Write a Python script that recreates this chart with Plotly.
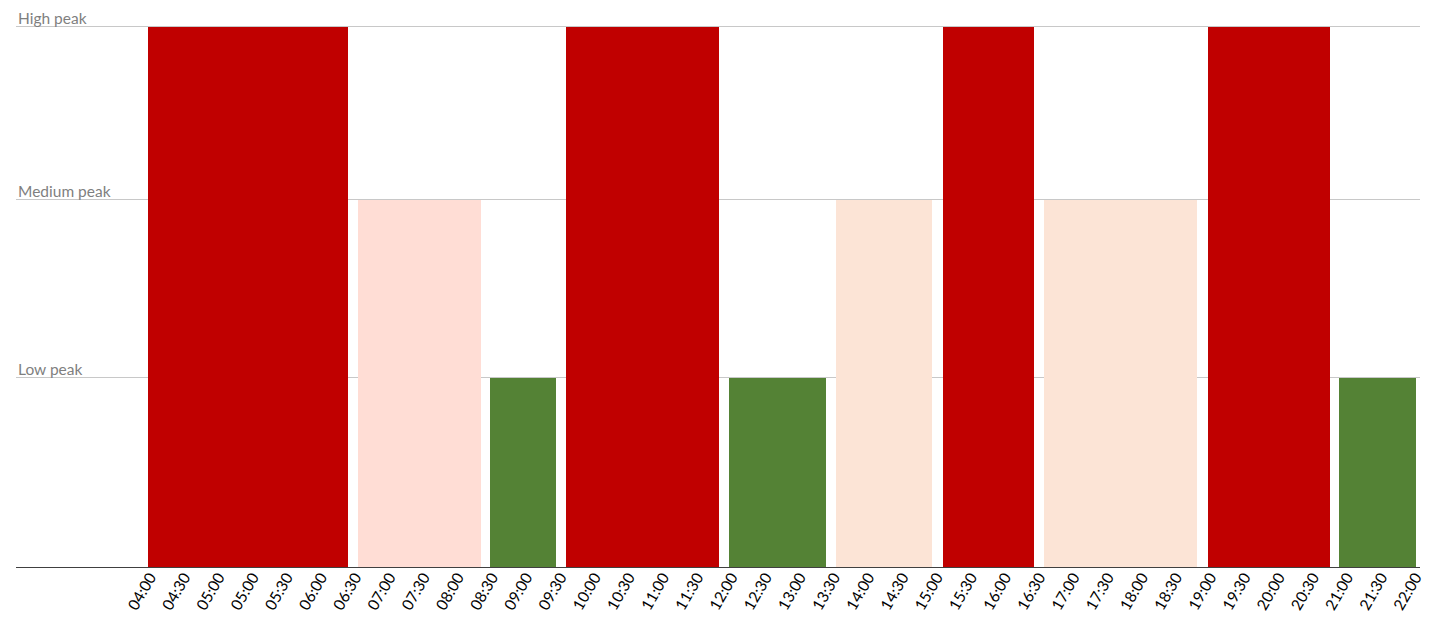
import plotly.graph_objects as go

# Time-slot tick labels (as shown on the source chart, including the repeated 05:00)
tick_labels = ["04:00", "04:30", "05:00", "05:00", "05:30", "06:00", "06:30", "07:00",
               "07:30", "08:00", "08:30", "09:00", "09:30", "10:00", "10:30", "11:00",
               "11:30", "12:00", "12:30", "13:00", "13:30", "14:00", "14:30", "15:00",
               "15:30", "16:00", "16:30", "17:00", "17:30", "18:00", "18:30", "19:00",
               "19:30", "20:00", "20:30", "21:00", "21:30", "22:00"]

# Peak levels
level_names = ["Low peak", "Medium peak", "High peak"]
level_values = [35, 68, 100]

# Periods: start / end in slot units (index into tick_labels), and peak level
period_start = [-0.06, 6.08, 9.94, 12.16, 16.93, 20.06, 23.19, 26.14, 30.94, 34.77]
period_end = [5.79, 9.68, 11.87, 16.64, 19.77, 22.87, 25.85, 30.61, 34.50, 37.02]
period_level = ["High peak", "Medium peak", "Low peak", "High peak", "Low peak",
                "Medium peak", "High peak", "Medium peak", "High peak", "Low peak"]
period_color = ["#C00000", "#FFDDD5", "#548235", "#C00000", "#548235",
                "#FCE4D6", "#C00000", "#FCE4D6", "#C00000", "#548235"]

lvl = dict(zip(level_names, level_values))
xs = [(s + e) / 2 for s, e in zip(period_start, period_end)]
ws = [e - s for s, e in zip(period_start, period_end)]
ys = [lvl[p] for p in period_level]

fig = go.Figure()
fig.add_trace(go.Bar(
    x=xs, y=ys, width=ws,
    marker=dict(color=period_color, line=dict(width=0)),
    hovertext=period_level, hoverinfo="text",
    showlegend=False,
))

# Level labels sit just above their gridlines, at the left edge of the plot
for name, val in zip(level_names, level_values):
    fig.add_annotation(
        x=0, xref="paper", y=val, yref="y",
        xanchor="left", yanchor="bottom", xshift=0, yshift=-2,
        text=name, showarrow=False,
        font=dict(size=15.5, color="#7F7F7F"),
    )

fig.update_layout(
    width=1432, height=628,
    margin=dict(l=8, r=20, t=0, b=69, autoexpand=False),
    plot_bgcolor="white", paper_bgcolor="white",
    font=dict(family="Lato, Open Sans, sans-serif"),
    bargap=0,
    xaxis=dict(
        range=[-3.92, 37.13], automargin=False,
        tickmode="array", tickvals=list(range(len(tick_labels))), ticktext=tick_labels,
        tickangle=-60, tickfont=dict(size=15.5, color="#000000"),
        ticklabelstandoff=-6,
        showgrid=False, zeroline=False,
        showline=True, linecolor="#404040", linewidth=1.3,
        ticks="",
    ),
    yaxis=dict(
        range=[0, 103.5], automargin=False,
        tickmode="array", tickvals=level_values, showticklabels=False,
        showgrid=True, gridcolor="#C8C8C8", gridwidth=1,
        zeroline=False, showline=False, ticks="",
    ),
)

fig.write_html("out.html")
